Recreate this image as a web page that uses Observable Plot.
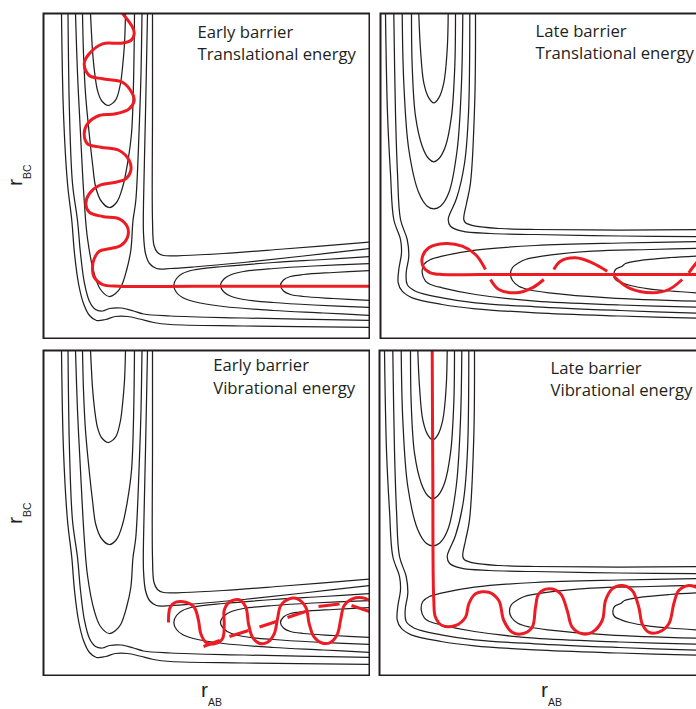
<!DOCTYPE html>
<html><head><meta charset="utf-8">
<script src="https://cdn.jsdelivr.net/npm/d3@7"></script>
<script src="https://cdn.jsdelivr.net/npm/@observablehq/plot@0.6"></script>
<style>
html,body{margin:0;padding:0;background:#fff;}
body{width:696px;height:709px;overflow:hidden;position:relative;}
.panel{position:absolute;width:328px;height:327px;}
.panel svg{max-width:none;display:block;}
#labels{position:absolute;left:0;top:0;}
</style></head><body>
<div id="tl" class="panel" style="left:42px;top:12px"></div>
<div id="tr" class="panel" style="left:379px;top:12px"></div>
<div id="bl" class="panel" style="left:42px;top:349px"></div>
<div id="br" class="panel" style="left:378px;top:349px"></div>
<svg id="labels" width="696" height="709"></svg>
<script>
// ---- panel titles ----
const titles = [
  "Early barrier\nTranslational energy",
  "Late barrier\nTranslational energy",
  "Early barrier\nVibrational energy",
  "Late barrier\nVibrational energy"
];
const axisX = ["r", "AB"];
const axisY = ["r", "BC"];

// ---- early-barrier surface contours (r_AB, depth of r_BC from panel top) ----
const earlyU1 = [[47,0],[48,20],[49,37],[51,58],[54,77],[58,87],[64.7,92],[70,89],[73,85],[77,70],[79,54],[81,30],[82,0]];
const earlyU2 = [[39,0],[40,40],[42,80],[45.7,120],[49,150],[52.3,174],[58,188],[65.7,194],[73,189],[79,174],[84,150],[88,120],[90,70],[91,0]];
const earlyU3 = [[32,0],[34,60],[37,120],[40.7,187],[44,225],[50.7,260],[57,276],[65.7,283],[72,280],[77.3,273.7],[83,257],[87.3,237],[89.5,207],[92.3,187],[95.5,120],[97.5,60],[98.5,0]];
const earlyInner1 = [[104,0],[102,100],[100,190],[100,220],[102,240],[106,250],[113,255],[127,255],[150,253.5],[200,249],[260,242.5],[326,235]];
const earlyInner2 = [[109,0],[109,100],[109,207],[110.5,232],[114,239],[120,242],[140,242],[180,240],[240,235.5],[326,228.7]];
const earlyOuter2 = [[24.5,0],[26,100],[29,170],[34,207],[37,240],[41,270],[46,288],[52,296],[59,297.5],[66,295],[78,294.5],[90,297.5],[100,300.5],[127,302.5],[200,304.5],[326,307]];
const earlyOuter1 = [[18,0],[20,100],[24,170],[28.3,207],[31,240],[35,270],[40,290],[46,302],[53,307],[62,306],[72,303],[84,303],[96,305.5],[110,309],[127,311],[200,312.5],[326,314]];
const earlyS3 = [[326,243],[280,246],[230,249],[180,253],[150,256.5],[139,260],[133,265],[130.3,272],[133,279],[139,284],[150,288],[180,293],[230,297],[280,299.5],[326,302]];
const earlyS2 = [[326,250],[270,252.5],[230,255],[200,258],[188,261],[181,265],[177,272],[181,279],[188,283],[200,286],[230,289],[270,291.5],[326,294]];
const earlyS1 = [[326,257],[290,259],[260,261],[247,263],[240,266.5],[237,272],[240,277.5],[247,281],[260,283],[290,285],[326,287]];

// ---- late-barrier surface contours ----
const lateU1 = [[38.3,0],[40,36],[43.3,69.3],[48.3,84.3],[53.3,89.3],[58.3,84.3],[63.3,69.3],[66.7,36],[67.7,0]];
const lateU2 = [[31,0],[31.7,52.7],[35,102.7],[41.7,132.7],[48.3,145.3],[53.3,148.3],[58.3,145.3],[65,132.7],[71,102.7],[74.3,52.7],[75,0]];
const lateU3 = [[21.7,0],[23.3,69.3],[28.3,136],[38.3,179.3],[46.7,192.7],[53.3,195.3],[60,192.7],[68.3,179.3],[76.7,136],[81,69.3],[82.3,0]];
const lateInner1 = [[89.3,0],[88,100],[84,150],[76,185],[69.5,200],[67.7,206],[70,212.7],[81.7,217.7],[110,220],[155,221],[240,222.5],[326,223.3]];
const lateInner2 = [[95,0],[94.3,86],[90,169.3],[86,190],[83.5,202],[83.3,206],[85,209.3],[95,212.7],[120,215],[155,216],[240,216.5],[326,216]];
const lateOuter1 = [[5,0],[7,100],[10,160],[13.3,206],[20,226],[21,239.3],[18.3,256],[17.7,269.3],[21.7,277.7],[31.7,284.3],[61.7,291],[95,295.3],[155,299.3],[240,302.5],[326,305]];
const lateOuter2 = [[13.3,0],[15,100],[17,160],[20,206],[26.7,226],[28.3,242.7],[25.7,259.3],[26.7,271],[35,277.7],[61.7,284.3],[95,289.3],[155,293.3],[240,297],[326,300]];
const lateS3 = [[326,228],[240,229.5],[155,232],[95,236.7],[61.7,242.7],[50,246],[43.3,251],[41.7,259.3],[45,267.7],[50,271],[61.7,274.3],[95,281],[155,287.7],[240,291.5],[326,294]];
const lateS2 = [[326,234.5],[270,236],[211.7,237.7],[161.7,242.7],[145,246],[138.3,249.3],[132,254],[130,261],[132,267],[138.3,272.7],[150,276.5],[168.3,279.3],[228.3,284.3],[326,288]];
const lateS1 = [[326,242],[290,244],[261.7,246.7],[245,250],[241.7,252.7],[235,256],[233.3,261],[235,266],[241.7,269.3],[250,272],[268.3,275.3],[290,277.5],[326,280]];

// ---- trajectories ----
const trajTL = [[79,0],[89,13.7],[90.7,20.3],[87.3,27],[77.3,29.7],[59,30.3],[45.7,40.3],[40.7,50.3],[45.7,62],[59,65.3],[79,68.7],[89,80.3],[90.7,87],[85.7,95.3],[72.3,100.3],[55.7,102],[44,110.3],[40.7,120.3],[44,130.3],[57.3,133.7],[75.7,137],[85.7,147],[87.3,157],[82.3,165.3],[72.3,168.7],[55.7,172],[45.7,180.3],[42.3,190.3],[45.7,198.7],[59,203],[75.7,205.3],[84,213.7],[84,223.7],[77.3,232],[65.7,235.3],[55.7,237.7],[50.7,245.3],[49,253.7],[50.7,263.7],[59,271],[75.7,272.7],[150,272.7],[250,272.7],[326,272.7]];
const trajTR1 = [[105,256],[95,241],[81.7,232.7],[65,230],[48.3,234.3],[41.7,244.3],[43.3,254.3],[50,259.3],[61.7,261],[100,261],[200,261],[326,261]];
const trajTR2 = [[110,266],[118.3,276],[135,279.3],[151.7,274.3],[163.3,266]];
const trajTR3 = [[173.3,256],[180,247.7],[195,244.3],[211.7,249.3],[226.7,257.7]];
const trajTR4 = [[233.3,262.7],[248.3,274.3],[271.7,279.3],[288.3,276],[301.7,266]];
const trajTR5 = [[308.3,259.3],[316,249.3],[322,244]];
const trajBL = [[125,272],[126.7,256.7],[132.3,251.7],[142.3,251.7],[150.7,256.7],[155,270],[157.3,283.3],[162.3,291.7],[170.7,293.3],[179,288.3],[180.7,273.3],[180.7,260],[185.7,251.7],[195.7,249.3],[202.3,256.7],[205,273.3],[209,286.7],[215.7,292.7],[224,291.7],[230.7,283.3],[234,268.3],[237.3,255],[245.7,248.3],[254,248.3],[262.3,256.7],[265.7,273.3],[270.7,286.7],[279,292.7],[287.3,291.7],[294,283.3],[297.3,268.3],[300.7,255],[309,248.3],[319,247.3],[326,250]];
const trajBLd1 = [[160,296],[176,290]];
const trajBLd2 = [[186,286],[205,280]];
const trajBLd3 = [[216,276.5],[233,271]];
const trajBLd4 = [[244,267],[262,261]];
const trajBLd5 = [[275,256],[296,253.5]];
const trajBLd6 = [[308,255],[326,261]];
const trajBR = [[52.7,0],[53.3,123.3],[54.3,250],[56,266.7],[62.7,275],[76,275],[86,266.7],[89.3,253.3],[96,243.3],[109.3,241.7],[119.3,250],[124.3,270],[132.7,281.7],[142.7,283.3],[152.7,276.7],[156,256.7],[159.3,243.3],[169.3,238.3],[181,243.3],[187.7,260],[192.7,276.7],[202.7,283.3],[212.7,281.7],[222.7,270],[226,250],[232.7,238.3],[242.7,235],[252.7,240],[259.3,256.7],[262.7,273.3],[269.3,281.7],[279.3,281.7],[289.3,273.3],[294.3,253.3],[299.3,240],[309.3,235],[317,236.7],[326,240]];

const earlySurface = [earlyU1, earlyU2, earlyU3, earlyInner1, earlyInner2, earlyOuter1, earlyOuter2, earlyS1, earlyS2, earlyS3];
const lateSurface = [lateU1, lateU2, lateU3, lateInner1, lateInner2, lateOuter1, lateOuter2, lateS1, lateS2, lateS3];

const INK = "#231f20", RED = "#ed1c24";
const FS = 16.7, LH = 1.353;
const toRows = list => list.flatMap((c, i) => c.map(([x, y]) => ({x, y, id: i})));

function panel(surface, trajs, title, tdx, baseline) {
  return Plot.plot({
    width: 328, height: 327, margin: 1,
    style: {background: "transparent", maxWidth: "none"},
    x: {domain: [0, 326], axis: null},
    y: {domain: [0, 325], reverse: true, axis: null},
    marks: [
      Plot.line(toRows(surface), {x: "x", y: "y", z: "id", stroke: INK, strokeWidth: 1.25, curve: "catmull-rom", clip: true}),
      Plot.line(toRows(trajs), {x: "x", y: "y", z: "id", stroke: RED, strokeWidth: 3, curve: "catmull-rom", clip: true, strokeLinecap: "butt"}),
      Plot.frame({stroke: INK, strokeWidth: 2}),
      Plot.text([title], {text: d => d, frameAnchor: "top-left", textAnchor: "start", lineAnchor: "top", lineHeight: LH, dx: tdx, dy: baseline - 0.71 * LH * FS, fontSize: FS, fontFamily: "'Open Sans', sans-serif", fill: INK})
    ]
  });
}

document.getElementById("tl").append(panel(earlySurface, [trajTL], titles[0], 154, 24.3));
document.getElementById("tr").append(panel(lateSurface, [trajTR1, trajTR2, trajTR3, trajTR4, trajTR5], titles[1], 155, 23));
document.getElementById("bl").append(panel(earlySurface, [trajBL, trajBLd1, trajBLd2, trajBLd3, trajBLd4, trajBLd5, trajBLd6], titles[2], 169.7, 20.7));
document.getElementById("br").append(panel(lateSurface, [trajBR], titles[3], 171, 23.3));

// ---- axis labels (r with subscript) ----
const svg = d3.select("#labels");
const font = "'Liberation Sans', Arial, sans-serif";
function lab(g, parts) {
  const t = g.append("text").attr("font-family", font).attr("fill", INK).attr("font-size", 21);
  t.append("tspan").text(parts[0]);
  t.append("tspan").attr("font-size", 10.5).attr("dy", 9).text(parts[1]);
}
[[201, 697], [541, 697]].forEach(([x, y]) => lab(svg.append("g").attr("transform", `translate(${x},${y})`), axisX));
[[22, 186], [22, 524]].forEach(([x, y]) => lab(svg.append("g").attr("transform", `translate(${x},${y}) rotate(-90)`), axisY));
</script>
</body></html>
